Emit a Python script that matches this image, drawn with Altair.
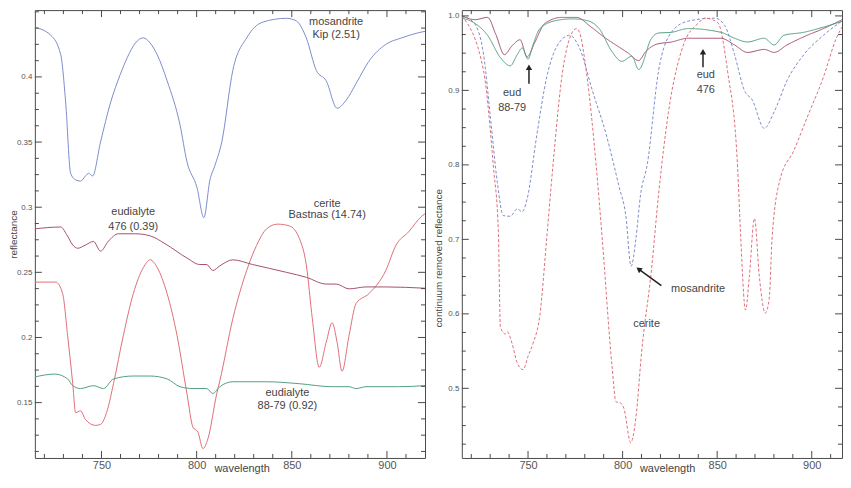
import altair as alt
import pandas as pd

FONT = "Liberation Sans"
FRAME = "#4a4a4a"
SERIES = ["mosandrite", "cerite", "eudialyte 476", "eudialyte 88-79"]
COLORS = ["#7d8ccb", "#df6e78", "#a4506f", "#52a07f"]

# ---------------- left panel: reflectance ----------------
mos_w = [715.0, 723.4, 728.6, 731.2, 733.8, 736.4, 739.0, 741.6, 743.2, 745.3, 749.5, 754.7, 759.9,
         763.6, 767.8, 772.0, 775.6, 779.3, 784.5, 791.3, 794.9, 800.2, 803.8, 807.0, 809.6, 813.2,
         819.0, 826.3, 834.6, 847.2, 852.4, 857.6, 862.9, 868.1, 873.8, 878.5, 883.8, 890.5, 899.4,
         907.8, 916.7, 920.0]
mos_r = [0.438, 0.432, 0.417, 0.380, 0.326, 0.321, 0.320, 0.324, 0.326, 0.324, 0.350, 0.380, 0.402,
         0.415, 0.426, 0.430, 0.426, 0.417, 0.397, 0.363, 0.335, 0.315, 0.292, 0.321, 0.332, 0.350,
         0.405, 0.430, 0.442, 0.445, 0.443, 0.430, 0.405, 0.397, 0.376, 0.382, 0.395, 0.412, 0.425,
         0.430, 0.434, 0.435]

cer_w = [715.0, 726.0, 729.6, 732.2, 734.9, 736.4, 739.0, 741.6, 746.9, 749.5, 753.1, 756.3, 761.5,
         766.7, 772.0, 775.6, 779.3, 784.5, 789.7, 794.9, 798.1, 800.7, 803.3, 805.9, 810.6, 812.2,
         819.0, 826.3, 831.5, 836.7, 842.5, 848.8, 854.0, 857.6, 860.8, 864.4, 868.1, 871.2, 873.8,
         876.4, 880.1, 883.8, 890.5, 899.4, 904.7, 911.4, 918.2, 920.0]
cer_r = [0.2425, 0.2425, 0.2336, 0.2016, 0.1645, 0.1422, 0.1437, 0.1370, 0.1325, 0.1333, 0.1444,
         0.1645, 0.2016, 0.2336, 0.2536, 0.2596, 0.2536, 0.2336, 0.2016, 0.1570, 0.1310, 0.1273,
         0.1147, 0.1221, 0.1570, 0.1667, 0.2143, 0.2514, 0.2707, 0.2833, 0.2870, 0.2856, 0.2760,
         0.2559, 0.2143, 0.1771, 0.1964, 0.2113, 0.1964, 0.1741, 0.2016, 0.2261, 0.2336, 0.2514,
         0.2707, 0.2811, 0.2930, 0.2950]

e476_w = [715.0, 728.6, 731.7, 734.9, 737.5, 741.6, 745.8, 749.5, 753.7, 758.9, 767.8, 775.6, 783.4,
          794.9, 801.7, 805.3, 808.5, 812.2, 819.0, 829.4, 847.2, 857.6, 868.1, 873.3, 880.1, 889.0,
          899.4, 920.0]
e476_r = [0.2834, 0.2848, 0.2790, 0.2710, 0.2685, 0.2710, 0.2737, 0.2663, 0.2740, 0.2796, 0.2796,
          0.2780, 0.2720, 0.2610, 0.2560, 0.2560, 0.2514, 0.2550, 0.2596, 0.2560, 0.2500, 0.2462,
          0.2410, 0.2410, 0.2373, 0.2388, 0.2388, 0.2378]

e8879_w = [715.0, 725.5, 732.2, 734.9, 739.0, 745.8, 751.1, 756.3, 766.7, 775.6, 784.5, 791.3, 798.1,
           805.3, 808.5, 812.2, 819.0, 836.7, 854.0, 871.2, 880.1, 883.8, 889.0, 906.0, 920.0]
e8879_r = [0.1697, 0.1719, 0.1682, 0.1630, 0.1608, 0.1630, 0.1608, 0.1682, 0.1704, 0.1704, 0.1682,
           0.1622, 0.1608, 0.1608, 0.1570, 0.1622, 0.1660, 0.1660, 0.1645, 0.1622, 0.1622, 0.1608,
           0.1622, 0.1622, 0.1630]

# ---------------- right panel: continuum removed ----------------
mos_cr_w = [715.0, 721.3, 726.5, 730.2, 733.8, 736.9, 740.6, 744.3, 746.9, 749.5, 754.7, 759.9, 766.7,
            772.0, 777.2, 784.0, 791.3, 798.1, 801.7, 804.5, 807.0, 809.5, 813.0, 819.0, 825.8, 834.6,
            848.8, 854.0, 859.2, 864.4, 868.6, 874.9, 880.1, 886.9, 895.8, 906.2, 920.0]
mos_cr_r = [1.0, 0.991, 0.948, 0.862, 0.776, 0.732, 0.731, 0.741, 0.737, 0.754, 0.841, 0.918, 0.965,
            0.974, 0.957, 0.900, 0.841, 0.771, 0.732, 0.664, 0.700, 0.760, 0.800, 0.926, 0.978, 0.993,
            0.997, 0.987, 0.948, 0.900, 0.887, 0.849, 0.871, 0.913, 0.948, 0.974, 1.0]

cer_cr_w = [715.0, 726.5, 731.7, 734.3, 735.4, 738.0, 739.0, 741.6, 744.3, 747.4, 750.0, 752.6, 756.3,
            759.9, 763.1, 768.3, 772.0, 775.6, 777.2, 780.8, 786.1, 789.2, 794.4, 796.5, 799.1, 800.7,
            804.3, 807.0, 810.1, 815.3, 819.0, 824.2, 832.0, 839.9, 843.5, 850.3, 855.5, 860.8, 862.3,
            865.0, 867.0, 869.7, 872.3, 875.4, 877.5, 879.0, 883.2, 890.5, 897.3, 906.2, 913.0, 917.2,
            920.0]
cer_cr_r = [1.0, 0.926, 0.797, 0.711, 0.582, 0.573, 0.576, 0.560, 0.534, 0.525, 0.543, 0.560, 0.599,
            0.702, 0.797, 0.926, 0.970, 0.983, 0.978, 0.926, 0.797, 0.702, 0.530, 0.482, 0.480, 0.473,
            0.427, 0.460, 0.550, 0.660, 0.760, 0.870, 0.960, 0.990, 0.997, 0.991, 0.926, 0.797, 0.711,
            0.605, 0.650, 0.728, 0.650, 0.601, 0.620, 0.700, 0.780, 0.819, 0.862, 0.918, 0.970, 0.990,
            1.0]

e476_cr_w = [715.0, 722.0, 728.6, 733.0, 737.5, 741.6, 745.8, 749.5, 753.7, 758.9, 767.8, 775.6, 783.4,
             790.0, 797.0, 803.0, 808.5, 812.2, 818.0, 825.8, 834.6, 851.9, 859.2, 866.0, 874.9, 880.1,
             886.9, 895.8, 906.2, 920.0]
e476_cr_r = [1.0, 0.995, 0.998, 0.975, 0.948, 0.960, 0.968, 0.945, 0.965, 0.990, 0.998, 0.998, 0.985,
             0.972, 0.960, 0.950, 0.940, 0.952, 0.962, 0.965, 0.970, 0.970, 0.961, 0.951, 0.955, 0.951,
             0.961, 0.972, 0.983, 1.0]

e8879_cr_w = [715.0, 721.3, 728.6, 735.4, 740.6, 744.3, 746.9, 750.0, 752.6, 756.3, 765.2, 773.5, 780.8,
              787.6, 794.4, 799.6, 804.9, 808.5, 815.3, 819.0, 825.8, 834.6, 851.9, 859.2, 866.0, 874.9,
              880.1, 885.3, 895.8, 906.2, 920.0]
e8879_cr_r = [0.997, 0.991, 0.974, 0.944, 0.933, 0.948, 0.957, 0.942, 0.961, 0.983, 0.994, 0.996, 0.994,
              0.983, 0.952, 0.939, 0.946, 0.928, 0.970, 0.977, 0.978, 0.983, 0.978, 0.970, 0.965, 0.970,
              0.961, 0.974, 0.978, 0.985, 0.996]

# ---------------- axes ----------------
X_MAJOR = [750, 800, 850, 900]
X_MINOR = [720, 730, 740, 760, 770, 780, 790, 810, 820, 830, 840, 860, 870, 880, 890, 910]
YL_MAJOR = [0.15, 0.2, 0.25, 0.3, 0.35, 0.4]
YL_MINOR = [0.1125, 0.125, 0.1375, 0.1625, 0.175, 0.1875, 0.2125, 0.225, 0.2375, 0.2625, 0.275,
            0.2875, 0.3125, 0.325, 0.3375, 0.3625, 0.375, 0.3875, 0.4125, 0.425, 0.4375, 0.45]
YR_MAJOR = [0.5, 0.6, 0.7, 0.8, 0.9, 1.0]
YR_MINOR = [0.425, 0.45, 0.475, 0.525, 0.55, 0.575, 0.625, 0.65, 0.675, 0.725, 0.75, 0.775, 0.825,
            0.85, 0.875, 0.925, 0.95, 0.975]

# ---------------- annotations ----------------
left_lab_t = ["mosandrite", "Kip (2.51)", "cerite", "Bastnas (14.74)", "eudialyte", "476 (0.39)",
              "eudialyte", "88-79 (0.92)"]
left_lab_w = [873.3, 873.3, 868.6, 868.6, 766.7, 766.7, 847.7, 847.7]
left_lab_r = [0.4424, 0.4320, 0.3027, 0.2937, 0.2960, 0.2848, 0.1570, 0.1474]

right_lab_t = ["eud", "88-79", "eud", "476", "mosandrite", "cerite"]
right_lab_w = [741.6, 741.6, 844.0, 844.0, 839.9, 812.7]
right_lab_r = [0.8965, 0.8770, 0.9200, 0.9000, 0.6340, 0.5870]

arrow_w1 = [750.5, 842.5, 820.5]
arrow_r1 = [0.909, 0.931, 0.638]
arrow_w2 = [750.5, 842.5, 808.5]
arrow_r2 = [0.931, 0.952, 0.660]
arrow_a = [0, 0, 306]

LW, RW, H = 392, 382, 450
X_LEFT, X_RIGHT = [715, 920], [715, 916]
Y_LEFT, Y_RIGHT = [0.1075, 0.4513], [0.4065, 1.0078]


def long_df(parts):
    rows = []
    for name, ws, rs in parts:
        for w, r in zip(ws, rs):
            rows.append({"series": name, "w": w, "r": r})
    return pd.DataFrame(rows)


left_df = long_df([("mosandrite", mos_w, mos_r), ("cerite", cer_w, cer_r),
                   ("eudialyte 476", e476_w, e476_r), ("eudialyte 88-79", e8879_w, e8879_r)])
right_df = long_df([("mosandrite", mos_cr_w, mos_cr_r), ("cerite", cer_cr_w, cer_cr_r),
                    ("eudialyte 476", e476_cr_w, e476_cr_r), ("eudialyte 88-79", e8879_cr_w, e8879_cr_r)])


def panel(df, labels, xdom, ydom, W, ymaj, ymin, yfmt, ytitle, ytx, yty, xtx, dashed, arrows=None):
    xs = alt.Scale(domain=xdom, nice=False, zero=False)
    ys = alt.Scale(domain=ydom, nice=False, zero=False)
    enc = dict(
        x=alt.X("w:Q", scale=xs, axis=alt.Axis(
            values=X_MAJOR, format="d", tickSize=0, domain=False, grid=False, labelPadding=2,
            labelFontSize=11, labelColor="#555", labelFont=FONT, labelFlush=False,
            title="wavelength", titleFont=FONT, titleFontSize=11, titleFontWeight="normal",
            titleColor="#444", titleX=xtx, titleY=11, titleAlign="center", titleBaseline="middle")),
        y=alt.Y("r:Q", scale=ys, axis=alt.Axis(
            values=ymaj, format=yfmt, tickSize=0, domain=False, grid=False, labelPadding=3,
            labelFontSize=8, labelColor="#555", labelFont=FONT, labelFlush=False,
            title=ytitle, titleFont=FONT, titleFontSize=10, titleFontWeight="normal",
            titleColor="#444", titleX=ytx, titleY=yty, titleAngle=270, titleAlign="center",
            titleBaseline="middle")),
        color=alt.Color("series:N", scale=alt.Scale(domain=SERIES, range=COLORS), legend=None),
    )
    if dashed:
        enc["strokeDash"] = alt.StrokeDash("series:N", scale=alt.Scale(
            domain=SERIES, range=[[3, 2], [3, 2], [1, 0], [1, 0]]), legend=None)
    lines = alt.Chart(df).mark_line(strokeWidth=1, clip=True, interpolate="monotone").encode(**enc)

    def xticks(vals, ln):
        d = pd.DataFrame({"v": vals})
        bot = alt.Chart(d).mark_rule(color=FRAME, strokeWidth=1).encode(
            x=alt.X("v:Q", scale=xs, axis=None), y=alt.value(H), y2=alt.value(H - ln))
        top = alt.Chart(d).mark_rule(color=FRAME, strokeWidth=1).encode(
            x=alt.X("v:Q", scale=xs, axis=None), y=alt.value(0), y2=alt.value(ln))
        return [bot, top]

    def yticks(vals, ln):
        d = pd.DataFrame({"v": vals})
        lft = alt.Chart(d).mark_rule(color=FRAME, strokeWidth=1).encode(
            y=alt.Y("v:Q", scale=ys, axis=None), x=alt.value(0), x2=alt.value(ln))
        rgt = alt.Chart(d).mark_rule(color=FRAME, strokeWidth=1).encode(
            y=alt.Y("v:Q", scale=ys, axis=None), x=alt.value(W), x2=alt.value(W - ln))
        return [lft, rgt]

    t, lw, lr = labels
    txt = alt.Chart(pd.DataFrame({"t": t, "w": lw, "r": lr})).mark_text(
        font=FONT, fontSize=11, color="#444", align="center", baseline="middle").encode(
        x=alt.X("w:Q", scale=xs, axis=None), y=alt.Y("r:Q", scale=ys, axis=None), text="t:N")

    layers = [lines] + xticks(X_MAJOR, 7) + xticks(X_MINOR, 4) + yticks(ymaj, 7) + yticks(ymin, 4) + [txt]
    if arrows is not None:
        ad = pd.DataFrame({"w": arrows[0], "r": arrows[1], "w2": arrows[2], "r2": arrows[3],
                           "a": arrows[4]})
        shaft = alt.Chart(ad).mark_rule(color="#222", strokeWidth=1.5).encode(
            x=alt.X("w:Q", scale=xs, axis=None), y=alt.Y("r:Q", scale=ys, axis=None),
            x2="w2:Q", y2="r2:Q")
        head = alt.Chart(ad).mark_point(shape="triangle-up", filled=True, size=40, color="#222",
                                        opacity=1).encode(
            x=alt.X("w2:Q", scale=xs, axis=None), y=alt.Y("r2:Q", scale=ys, axis=None),
            angle=alt.Angle("a:Q", scale=None))
        layers += [shaft, head]
    return alt.layer(*layers).resolve_axis(x="independent", y="independent").properties(
        width=W, height=H)


left = panel(left_df, (left_lab_t, left_lab_w, left_lab_r), X_LEFT, Y_LEFT, LW, YL_MAJOR, YL_MINOR,
             ".2~f", "reflectance", -21, H * 0.5, LW * 0.53, False)
right = panel(right_df, (right_lab_t, right_lab_w, right_lab_r), X_RIGHT, Y_RIGHT, RW, YR_MAJOR,
              YR_MINOR, ".1f", "continuum removed reflectance", -23, H * 0.553, RW * 0.54, True,
              arrows=(arrow_w1, arrow_r1, arrow_w2, arrow_r2, arrow_a))

chart = alt.hconcat(left, right, spacing=7).properties(
    padding={"left": 0, "top": 0, "right": 0, "bottom": 0}, background="white"
).configure_view(stroke=FRAME, strokeWidth=1)

chart.save("out.html", embed_options={"renderer": "svg", "actions": False})
